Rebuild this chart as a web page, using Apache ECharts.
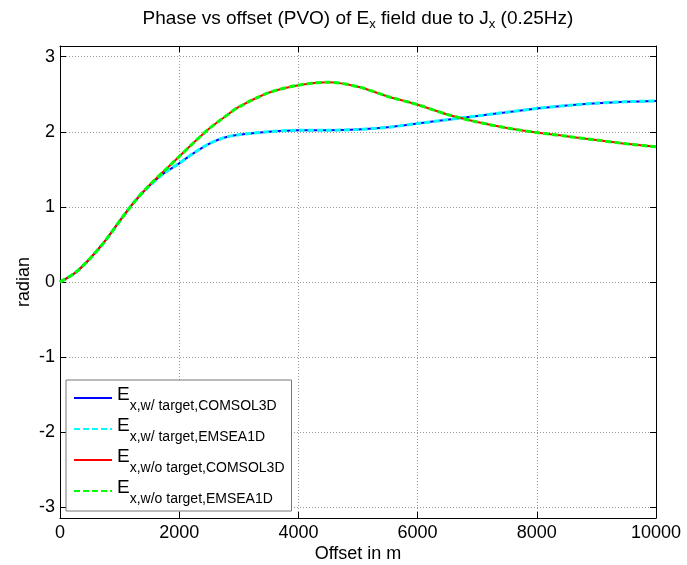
<!DOCTYPE html>
<html>
<head>
<meta charset="utf-8">
<script src="https://cdn.jsdelivr.net/npm/echarts@6/dist/echarts.min.js"></script>
<style>
    html, body { margin: 0; padding: 0; background: #fff; }
    #chart { width: 687px; height: 565px; }
</style>
</head>
<body>
<div id="chart"></div>
<script>
// offsets (m) and phase (radian)
var offsetM = [0, 250, 500, 750, 1000, 1250, 1500, 1750, 2000, 2250, 2500, 2750, 3000,
    3500, 4000, 4500, 5000, 5500, 6000, 6500, 7000, 7500, 8000, 8500, 9000, 9500, 10000];
var withTargetComsol = [0, 0.12, 0.31, 0.54, 0.81, 1.07, 1.28, 1.45, 1.58, 1.72, 1.84, 1.92, 1.96,
    2.00, 2.02, 2.02, 2.03, 2.06, 2.11, 2.16, 2.21, 2.26, 2.31, 2.35, 2.38, 2.40, 2.41];
var withTargetEmsea = [0, 0.12, 0.31, 0.54, 0.81, 1.07, 1.28, 1.45, 1.58, 1.72, 1.84, 1.92, 1.96,
    2.00, 2.02, 2.02, 2.03, 2.06, 2.11, 2.16, 2.21, 2.26, 2.31, 2.35, 2.38, 2.40, 2.41];
var noTargetComsol = [0, 0.12, 0.31, 0.54, 0.81, 1.07, 1.29, 1.48, 1.67, 1.86, 2.04, 2.19, 2.33,
    2.52, 2.62, 2.66, 2.60, 2.47, 2.36, 2.23, 2.13, 2.05, 1.99, 1.94, 1.89, 1.84, 1.80];
var noTargetEmsea = [0, 0.12, 0.31, 0.54, 0.81, 1.07, 1.29, 1.48, 1.67, 1.86, 2.04, 2.19, 2.33,
    2.52, 2.62, 2.66, 2.60, 2.47, 2.36, 2.23, 2.13, 2.05, 1.99, 1.94, 1.89, 1.84, 1.80];
var seriesNames = ['wT_COMSOL', 'wT_EMSEA', 'woT_COMSOL', 'woT_EMSEA'];
var legendText = ['x,w/ target,COMSOL3D', 'x,w/ target,EMSEA1D', 'x,w/o target,COMSOL3D', 'x,w/o target,EMSEA1D'];

var FONT = '"Liberation Sans", Arial, Helvetica, sans-serif';
var Y_LIM = Math.PI;

function pairs(ys) {
    return offsetM.map(function (x, i) { return [x, ys[i]]; });
}

var chart = echarts.init(document.getElementById('chart'));

var frameAxis = {
    axisLine: { show: true, onZero: false, lineStyle: { color: '#000', width: 1 } },
    axisTick: { show: true, inside: true, length: 6, lineStyle: { color: '#000' } },
    axisLabel: { show: false },
    splitLine: { show: false }
};

var option = {
    backgroundColor: '#fff',
    animation: false,
    textStyle: { fontFamily: FONT },
    title: {
        text: '{n|Phase vs offset (PVO) of E}{s|x}{n| field due to J}{s|x}{n| (0.25Hz)}',
        left: 353,
        textAlign: 'center',
        top: 6,
        textStyle: {
            fontWeight: 'normal',
            rich: {
                n: { fontSize: 19, fontFamily: FONT, fontWeight: 'normal', color: '#000', lineHeight: 22, padding: [0, 0, 6, 0] },
                s: { fontSize: 13, fontFamily: FONT, fontWeight: 'normal', color: '#000', lineHeight: 11, padding: [11, 0, 6, 0] }
            }
        }
    },
    grid: { left: 60, right: 31, top: 46, bottom: 47, show: false, containLabel: false, outerBoundsMode: 'none' },
    legend: {
        left: 66,
        top: 380,
        orient: 'vertical',
        padding: [3, 7, 5, 7],
        itemGap: 1,
        itemWidth: 38,
        itemHeight: 14,
        backgroundColor: '#fff',
        borderColor: '#777',
        borderWidth: 1,
        selectedMode: false,
        itemStyle: { opacity: 0 },
        data: seriesNames,
        formatter: function (name) {
            return '{e|E}{s|' + legendText[seriesNames.indexOf(name)] + '}';
        },
        textStyle: {
            rich: {
                e: { fontSize: 19, fontFamily: FONT, color: '#000', lineHeight: 20, padding: [1, 0, 7, 0] },
                s: { fontSize: 14, fontFamily: FONT, color: '#000', lineHeight: 12, padding: [16, 0, 0, 0] }
            }
        }
    },
    xAxis: [{
        type: 'value',
        min: 0,
        max: 10000,
        interval: 2000,
        name: 'Offset in m',
        nameLocation: 'middle',
        nameGap: 27,
        nameMoveOverlap: false,
        nameTextStyle: { fontSize: 18, color: '#000', fontFamily: FONT },
        axisLine: { show: true, onZero: false, lineStyle: { color: '#000', width: 1 } },
        axisTick: { show: true, inside: true, length: 6, lineStyle: { color: '#000' } },
        axisLabel: {
            fontSize: 18, color: '#000', margin: 6, fontFamily: FONT,
            formatter: function (v) { return String(v); }
        },
        splitLine: { show: true, lineStyle: { color: '#999', type: [1, 2], width: 1 } }
    }, Object.assign({
        type: 'value', position: 'top', min: 0, max: 10000, interval: 2000
    }, frameAxis)],
    yAxis: [{
        type: 'value',
        min: -Y_LIM,
        max: Y_LIM,
        splitNumber: 6,
        name: 'radian',
        nameLocation: 'middle',
        nameGap: 27,
        nameMoveOverlap: false,
        nameTextStyle: { fontSize: 18, color: '#000', fontFamily: FONT },
        axisLine: { show: true, onZero: false, lineStyle: { color: '#000', width: 1 } },
        axisTick: { show: true, inside: true, length: 6, lineStyle: { color: '#000' } },
        axisLabel: {
            fontSize: 18, color: '#000', margin: 5, fontFamily: FONT,
            formatter: function (v) {
                return Math.abs(v - Math.round(v)) < 1e-6 ? String(Math.round(v)) : '';
            }
        },
        splitLine: { show: true, lineStyle: { color: '#999', type: [1, 2], width: 1 } }
    }, Object.assign({
        type: 'value', position: 'right', min: -Y_LIM, max: Y_LIM, splitNumber: 6
    }, frameAxis)],
    series: [
        {
            name: seriesNames[0], type: 'line', data: pairs(withTargetComsol),
            smooth: 0.3, showSymbol: false, symbol: 'none',
            lineStyle: { color: '#0000ff', width: 2 }, itemStyle: { color: '#0000ff' }
        },
        {
            name: seriesNames[1], type: 'line', data: pairs(withTargetEmsea),
            smooth: 0.3, showSymbol: false, symbol: 'none',
            lineStyle: { color: '#00ffff', width: 3, type: [6, 3] }, itemStyle: { color: '#00ffff' }
        },
        {
            name: seriesNames[2], type: 'line', data: pairs(noTargetComsol),
            smooth: 0.3, showSymbol: false, symbol: 'none',
            lineStyle: { color: '#ff0000', width: 2 }, itemStyle: { color: '#ff0000' }
        },
        {
            name: seriesNames[3], type: 'line', data: pairs(noTargetEmsea),
            smooth: 0.3, showSymbol: false, symbol: 'none',
            lineStyle: { color: '#00ff00', width: 3, type: [6, 3] }, itemStyle: { color: '#00ff00' }
        }
    ]
};

chart.setOption(option);
</script>
</body>
</html>
